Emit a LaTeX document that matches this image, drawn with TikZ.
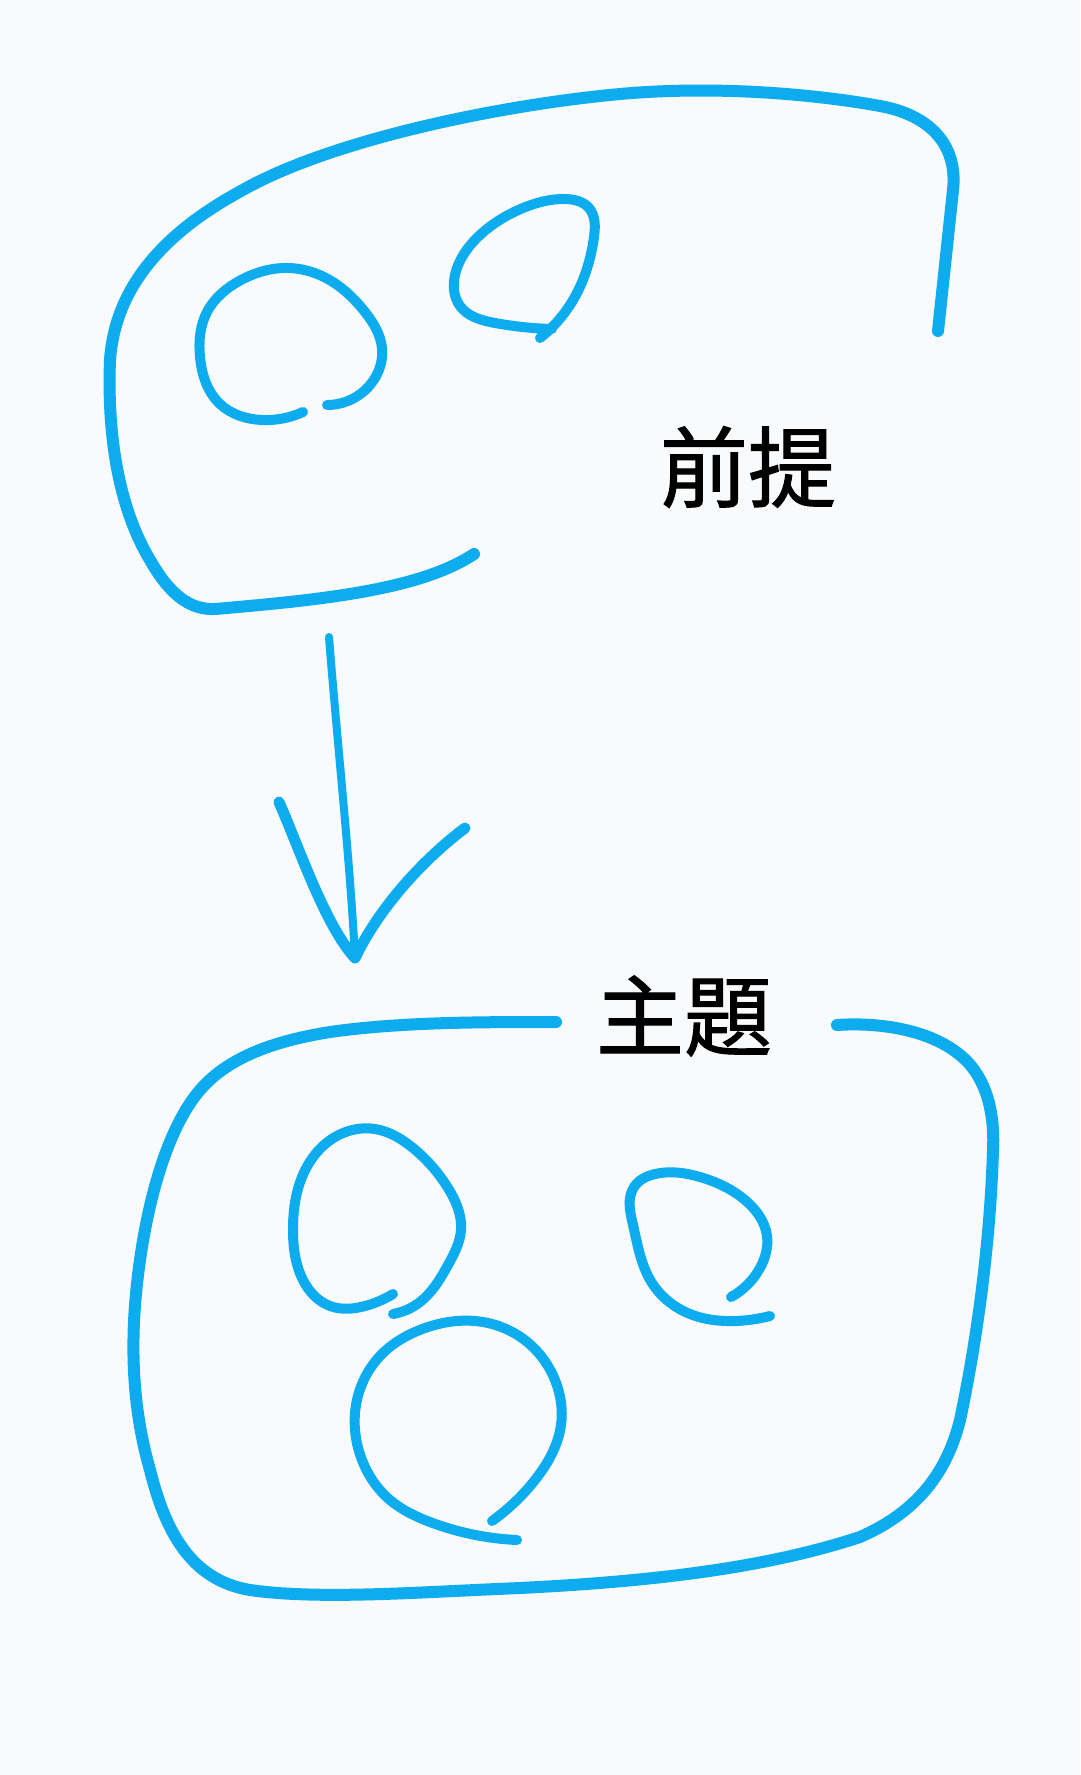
\documentclass[tikz,border=0pt]{standalone}
\usepackage{fontspec}
\usetikzlibrary{hobby}
\newfontfamily\cjk{Noto Sans CJK TC}[FakeBold=1.2]
\definecolor{pen}{RGB}{12,172,238}
\definecolor{paper}{RGB}{248,250,251}
\tikzset{
  ink/.style={draw=pen, line width=#1, line cap=round, line join=round},
  ink/.default=12pt,
  curl/.style={ink=10pt, use Hobby shortcut},
  word/.style={font=\cjk\fontsize{88}{92}\selectfont, inner sep=0pt}
}
\begin{document}
\begin{tikzpicture}[x=1pt, y=-1pt]
\fill[paper] (0,0) rectangle (1080,1775);
\useasboundingbox (0,0) rectangle (1080,1775);

\node[word] (premise) at (748,467) {前提};
\node[word] (topic) at (684,1016) {主題};

\draw[ink] (938,331) -- (953,190) .. controls (958,145) and (930,115) .. (880,106)
  .. controls (820,95) and (720,85) .. (620,94)
  .. controls (500,105) and (330,140) .. (241,191)
  .. controls (160,235) and (115,290) .. (110,360)
  .. controls (107,440) and (120,510) .. (150,560)
  .. controls (170,595) and (190,610) .. (215,609)
  .. controls (320,600) and (420,590) .. (474,554);
\draw[curl] (327,405) .. (370,385) .. (382,348) .. (365,312) .. (324,277) .. (289,268) .. (241,280) .. (207,312) .. (200,357) .. (220,404) .. (262,420) .. (303,412);
\draw[curl] (540,338) .. (570,305) .. (594,237) .. (589,208) .. (565,199) .. (523,208) .. (480,235) .. (455,275) .. (460,306) .. (495,323) .. (552,329);

\coordinate (tail) at (329,637);
\coordinate (tip) at (355,958);
\coordinate (barbl) at (279,802);
\coordinate (barbr) at (465,828);
\draw[ink=8pt] (tail) .. controls (337,740) and (350,860) .. (tip);
\draw[ink=11pt] (barbl) .. controls (300,850) and (325,925) .. (tip);
\draw[ink=11pt] (barbr) .. controls (420,862) and (378,910) .. (tip);

\draw[ink] (837,1025) .. controls (880,1022) and (930,1030) .. (960,1055)
  .. controls (985,1075) and (995,1110) .. (993,1150)
  .. controls (990,1250) and (975,1350) .. (960,1420)
  .. controls (945,1480) and (910,1515) .. (860,1537)
  .. controls (760,1570) and (640,1582) .. (520,1588)
  .. controls (420,1592) and (320,1600) .. (250,1590)
  .. controls (190,1580) and (165,1530) .. (150,1470)
  .. controls (130,1400) and (130,1330) .. (140,1260)
  .. controls (150,1190) and (170,1125) .. (200,1090)
  .. controls (230,1055) and (280,1040) .. (330,1032)
  .. controls (400,1022) and (480,1022) .. (556,1022);
\draw[curl] (393,1294) .. (365,1306) .. (330,1306) .. (303,1280) .. (293,1230) .. (302,1177) .. (335,1137) .. (375,1129) .. (413,1148) .. (448,1188) .. (461,1230) .. (448,1265) .. (420,1302) .. (393,1314);
\draw[curl] (731,1297) .. (760,1268) .. (767,1236) .. (745,1200) .. (700,1177) .. (655,1174) .. (634,1187) .. (633,1225) .. (652,1283) .. (690,1314) .. (735,1321) .. (770,1316);
\draw[curl] (492,1521) .. (535,1480) .. (561,1425) .. (555,1380) .. (522,1338) .. (475,1321) .. (425,1328) .. (380,1356) .. (356,1405) .. (362,1460) .. (390,1500) .. (430,1522) .. (517,1540);
\end{tikzpicture}
\end{document}
